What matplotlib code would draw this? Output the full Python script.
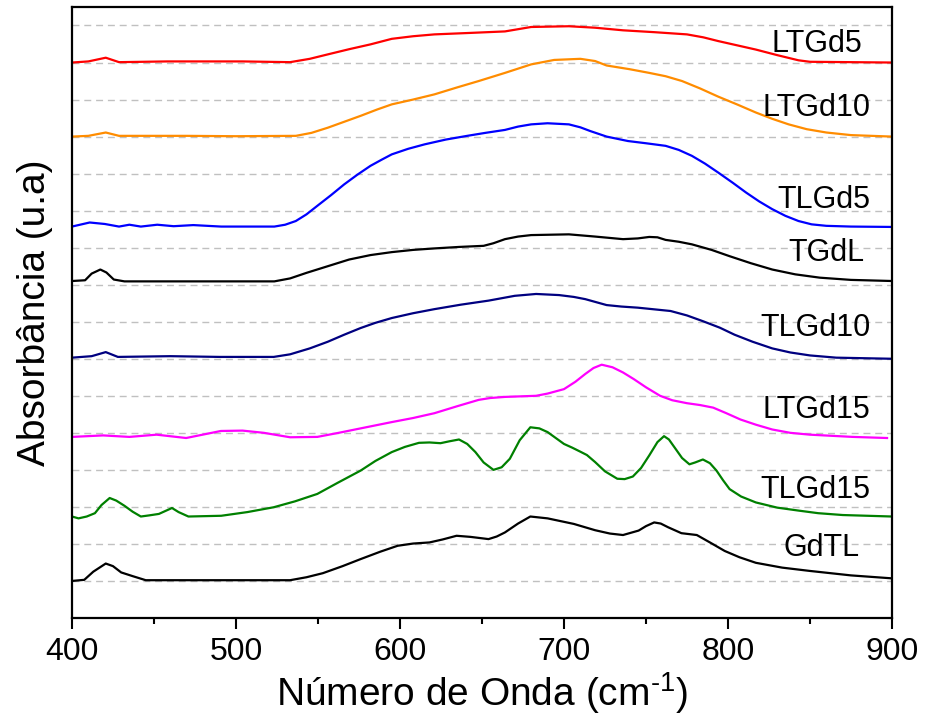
import matplotlib
matplotlib.use("Agg")
import matplotlib.pyplot as plt
from matplotlib.ticker import MultipleLocator

plt.rcParams['font.family'] = ['Liberation Sans', 'DejaVu Sans']
plt.rcParams['mathtext.fontset'] = 'custom'
plt.rcParams['mathtext.rm'] = 'Liberation Sans'

# espectros (x em cm-1, y em unidades da grade)
x_ltgd5 = [400, 410, 420.6, 428.7, 458, 504, 533, 545, 556, 569, 582, 595, 608, 621, 643, 664, 672, 680, 703, 719, 736, 755, 775, 785, 794, 805, 817, 830, 843, 850, 900]
y_ltgd5 = [14.0, 14.03, 14.13, 14.01, 14.03, 14.03, 14.01, 14.1, 14.22, 14.36, 14.49, 14.64, 14.71, 14.76, 14.8, 14.84, 14.9, 14.96, 14.98, 14.94, 14.87, 14.82, 14.76, 14.68, 14.58, 14.47, 14.35, 14.2, 14.06, 14.02, 14.0]

x_ltgd10 = [400, 410, 420.6, 428.7, 470, 500, 536.5, 546, 556, 566, 576, 586, 595, 608, 621, 635, 648, 664, 680, 694, 710, 719, 726, 740, 752, 762, 772, 783, 794, 806, 817, 827, 837, 848, 860, 875, 900]
y_ltgd10 = [12.0, 12.02, 12.11, 12.02, 12.02, 12.01, 12.02, 12.1, 12.24, 12.4, 12.56, 12.73, 12.87, 13.0, 13.14, 13.33, 13.5, 13.72, 13.95, 14.07, 14.1, 14.04, 13.92, 13.82, 13.72, 13.63, 13.5, 13.3, 13.08, 12.86, 12.65, 12.48, 12.33, 12.2, 12.11, 12.04, 12.0]

x_tlgd5 = [400, 410.8, 420, 428.7, 435, 442, 452, 462, 474, 491, 523.4, 530, 536.5, 543, 549.6, 558, 566, 574, 582, 589, 595, 605, 615, 628, 641, 652, 664, 672, 680, 690, 703, 710, 716, 726, 739, 750, 762, 770, 778, 786, 794, 803, 811, 819, 827, 835, 843, 851, 860, 875, 900]
y_tlgd5 = [9.57, 9.68, 9.64, 9.57, 9.62, 9.57, 9.62, 9.58, 9.61, 9.57, 9.57, 9.62, 9.72, 9.9, 10.13, 10.42, 10.71, 10.97, 11.21, 11.38, 11.52, 11.67, 11.79, 11.92, 12.02, 12.1, 12.18, 12.27, 12.33, 12.36, 12.33, 12.25, 12.15, 12.0, 11.88, 11.82, 11.75, 11.64, 11.48, 11.27, 11.03, 10.75, 10.49, 10.25, 10.04, 9.86, 9.72, 9.63, 9.59, 9.57, 9.56]

x_tgdl = [400, 408, 412, 417.3, 421, 425.5, 432, 480, 523.4, 533, 543, 556, 569, 582, 595, 608, 621, 636, 651, 657, 664, 672, 680, 703, 719, 736, 745, 752, 757, 762, 770, 778, 790, 801, 814, 827, 841, 856, 875, 900]
y_tgdl = [8.1, 8.12, 8.3, 8.41, 8.33, 8.14, 8.09, 8.09, 8.09, 8.17, 8.32, 8.5, 8.68, 8.8, 8.88, 8.94, 8.98, 9.02, 9.05, 9.12, 9.23, 9.3, 9.34, 9.36, 9.3, 9.23, 9.25, 9.29, 9.28, 9.21, 9.16, 9.09, 8.94, 8.77, 8.58, 8.41, 8.28, 8.19, 8.13, 8.1]

x_tlgd10 = [400, 412, 420.6, 428, 460, 490, 523, 533, 545, 556, 566, 576, 585, 595, 608, 621, 637, 654, 670, 683, 697, 706, 713, 726, 735, 745, 765, 775, 785, 795, 804, 815, 827, 838, 850, 866, 900]
y_tlgd10 = [6.03, 6.07, 6.18, 6.05, 6.07, 6.05, 6.05, 6.12, 6.28, 6.46, 6.65, 6.83, 6.97, 7.1, 7.23, 7.34, 7.46, 7.57, 7.7, 7.75, 7.72, 7.67, 7.61, 7.45, 7.41, 7.38, 7.29, 7.17, 7.01, 6.84, 6.65, 6.46, 6.28, 6.17, 6.09, 6.03, 6.0]

x_ltgd15 = [400, 419, 435, 451.6, 469.6, 490.8, 504, 517, 533, 549.6, 562.6, 576, 595, 608, 621, 635, 648, 655, 664, 683, 690, 700, 707, 713, 718, 723, 729.6, 736, 742.6, 750, 758.6, 766, 775, 783, 791, 799, 807.6, 817, 827, 838, 850, 876, 897]
y_ltgd15 = [3.89, 3.93, 3.89, 3.95, 3.86, 4.05, 4.06, 4.0, 3.88, 3.89, 4.0, 4.12, 4.29, 4.4, 4.53, 4.72, 4.89, 4.94, 4.97, 5.0, 5.06, 5.18, 5.38, 5.59, 5.75, 5.84, 5.77, 5.63, 5.45, 5.23, 5.0, 4.88, 4.8, 4.75, 4.68, 4.53, 4.36, 4.22, 4.09, 4.0, 3.95, 3.89, 3.86]

x_tlgd15 = [400, 404, 409, 414, 418, 423, 427, 432, 437, 442, 447, 453, 457, 461, 465, 471, 491, 507, 523, 536, 549.6, 562, 576, 585, 595, 603, 611.6, 618, 624.7, 630, 636, 641, 646, 651, 657, 662, 667, 673, 679.5, 685, 690, 695, 700, 705, 710, 714, 719, 725, 732.5, 737, 742, 747, 752, 757, 761, 764, 768, 772, 776.5, 780, 784.7, 789, 793, 797, 801, 808, 817, 830, 843, 855, 870, 900]
y_tlgd15 = [1.74, 1.69, 1.74, 1.83, 2.05, 2.24, 2.17, 2.03, 1.87, 1.74, 1.77, 1.81, 1.89, 1.97, 1.86, 1.74, 1.76, 1.86, 1.99, 2.15, 2.35, 2.65, 2.98, 3.24, 3.48, 3.62, 3.73, 3.74, 3.72, 3.77, 3.82, 3.7, 3.48, 3.2, 3.0, 3.07, 3.3, 3.8, 4.15, 4.12, 4.02, 3.86, 3.7, 3.6, 3.49, 3.4, 3.21, 2.96, 2.76, 2.75, 2.82, 3.05, 3.39, 3.75, 3.91, 3.82, 3.57, 3.32, 3.15, 3.2, 3.28, 3.18, 2.98, 2.72, 2.48, 2.28, 2.12, 1.98, 1.9, 1.83, 1.78, 1.74]

x_gdtl = [400, 407.5, 413, 420.6, 425, 430, 437, 445, 490, 533, 543, 553, 565, 576, 588, 598.6, 608, 618, 626, 634.5, 643, 654, 659, 664, 672, 679.5, 690, 706, 719, 728, 736, 745.5, 750, 755, 759, 763.5, 771.6, 781, 789, 798, 807, 817, 833, 850, 875, 900]
y_gdtl = [0.0, 0.03, 0.25, 0.47, 0.4, 0.23, 0.13, 0.02, 0.02, 0.02, 0.1, 0.21, 0.4, 0.59, 0.79, 0.95, 1.01, 1.04, 1.12, 1.22, 1.19, 1.13, 1.2, 1.31, 1.55, 1.74, 1.69, 1.54, 1.37, 1.28, 1.24, 1.36, 1.48, 1.58, 1.55, 1.45, 1.29, 1.24, 1.04, 0.81, 0.64, 0.49, 0.36, 0.27, 0.15, 0.07]

nomes = ['LTGd5', 'LTGd10', 'TLGd5', 'TGdL', 'TLGd10', 'LTGd15', 'TLGd15', 'GdTL']
cores = ['#ff0000', '#ff8c00', '#0000ff', '#000000', '#000080', '#ff00ff', '#008000', '#000000']
xs = [x_ltgd5, x_ltgd10, x_tlgd5, x_tgdl, x_tlgd10, x_ltgd15, x_tlgd15, x_gdtl]
ys = [y_ltgd5, y_ltgd10, y_tlgd5, y_tgdl, y_tlgd10, y_ltgd15, y_tlgd15, y_gdtl]
# posicao dos rotulos
rot_x = [882, 887, 887, 883, 887, 887, 887, 880]
rot_y = [14.49, 12.78, 10.3, 8.86, 6.84, 4.62, 2.46, 0.89]

fig = plt.figure(figsize=(9.25, 7.2), dpi=100)
ax = fig.add_axes([0.0778, 0.1417, 0.8865, 0.8486])

for x, y, c in zip(xs, ys, cores):
    ax.plot(x, y, color=c, lw=1.6, solid_joinstyle='round')

for n, px, py in zip(nomes, rot_x, rot_y):
    ax.text(px, py, n, fontsize=22, ha='right', va='center', color='black')

ax.set_xlim(400, 900)
ax.set_ylim(-1, 15.5)
ax.xaxis.set_major_locator(MultipleLocator(100))
ax.xaxis.set_minor_locator(MultipleLocator(50))
ax.yaxis.set_major_locator(MultipleLocator(1))
ax.grid(axis='y', color='#c0c0c0', linestyle=(0, (5, 3.5)), lw=1.0)
ax.set_axisbelow(True)
ax.tick_params(axis='y', left=False, labelleft=False)
ax.tick_params(axis='x', which='major', length=8, width=1.5, labelsize=23, pad=6)
ax.tick_params(axis='x', which='minor', length=4, width=1.5)
for s in ax.spines.values():
    s.set_linewidth(1.6)

ax.set_xlabel(r'Número de Onda (cm$^{\text{-1}}$)', fontsize=28, labelpad=2)
ax.set_ylabel('Absorbância (u.a)', fontsize=28, labelpad=14)

fig.savefig('out.png', dpi=100)
